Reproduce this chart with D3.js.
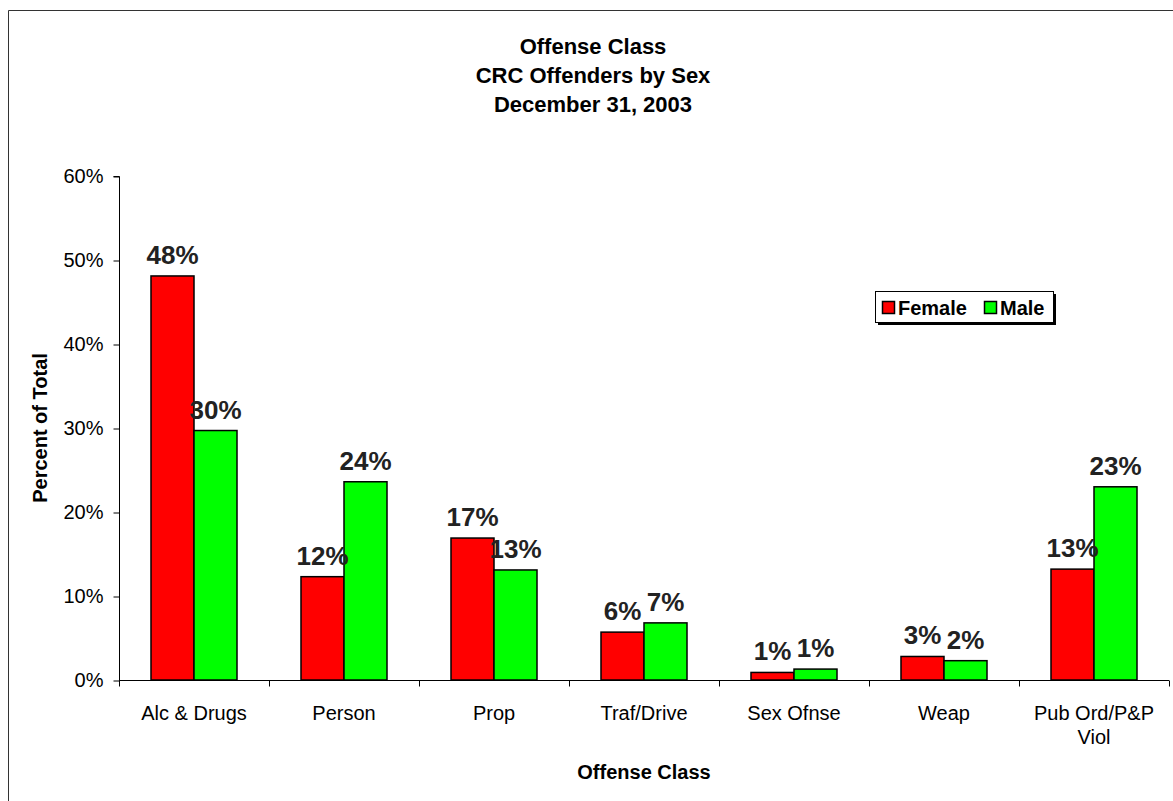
<!DOCTYPE html>
<html>
<head>
<meta charset="utf-8">
<script src="https://cdn.jsdelivr.net/npm/d3@7"></script>
<style>
html,body{margin:0;padding:0;background:#fff;}
svg{display:block;font-family:"Liberation Sans",Arial,sans-serif;}
</style>
</head>
<body>
<svg id="chart" width="1173" height="801"></svg>
<script>
const categories = ["Alc & Drugs","Person","Prop","Traf/Drive","Sex Ofnse","Weap","Pub Ord/P&P Viol"];
const seriesNames = ["Female","Male"];
const femaleValues = [48.1, 12.3, 16.9, 5.7, 0.9, 2.8, 13.2];
const maleValues = [29.7, 23.6, 13.1, 6.8, 1.3, 2.3, 23.0];
const yTickValues = [0,10,20,30,40,50,60];
const titleLines = ["Offense Class","CRC Offenders by Sex","December 31, 2003"];
const colors = {Female:"#ff0000", Male:"#00ff00"};

(function(){
const svg = d3.select("#chart");

// outer frame
svg.append("path").attr("d","M8.5,801 L8.5,10.5 L1173,10.5")
  .attr("fill","none").attr("stroke","#333").attr("stroke-width",1);

const pL = 119, pR = 1169, pT = 176, pB = 680;
const x = d3.scaleBand().domain(categories).range([pL,pR]).padding(0);
const bw = x.bandwidth();
const x1 = d3.scaleBand().domain(seriesNames).range([bw/2 - bw*0.2867, bw/2 + bw*0.2867]).padding(0);
const y = d3.scaleLinear().domain([0,60]).range([pB,pT]);

const data = categories.map((c,i)=>({cat:c, vals:[{s:"Female",v:femaleValues[i]},{s:"Male",v:maleValues[i]}]}));

// title
const t = svg.append("text").attr("text-anchor","middle").attr("font-weight","bold")
  .attr("font-size",22).attr("fill","#000");
titleLines.forEach((l,i)=>t.append("tspan").attr("x",593).attr("y",54 + i*29).text(l));

// bars
const g = svg.append("g");
const groups = g.selectAll("g.cat").data(data).join("g").attr("class","cat").attr("transform",d=>`translate(${x(d.cat)},0)`);
groups.selectAll("rect").data(d=>d.vals).join("rect")
  .attr("x",d=>x1(d.s)).attr("width",x1.bandwidth())
  .attr("y",d=>y(d.v)).attr("height",d=>y(0)-y(d.v))
  .attr("fill",d=>colors[d.s]).attr("stroke","#000").attr("stroke-width",1.5);
groups.selectAll("text").data(d=>d.vals).join("text")
  .attr("x",d=>x1(d.s)+x1.bandwidth()/2).attr("y",d=>y(d.v)-12)
  .attr("text-anchor","middle").attr("font-weight","bold").attr("font-size",26).attr("fill","#222")
  .text(d=>Math.round(d.v)+"%");

// y axis
const yAxis = d3.axisLeft(y).tickValues(yTickValues).tickFormat(d=>d+"%").tickSize(6).tickPadding(10);
const ya = svg.append("g").attr("transform",`translate(${pL+0.5},0.5)`).call(yAxis);
ya.select(".domain").attr("stroke","#000").attr("d",`M-6,${pT}H0V${pB}`);
ya.selectAll("text").attr("font-size",20).attr("font-family","Liberation Sans, Arial, sans-serif").attr("fill","#000");

// x axis
const xa = svg.append("g").attr("transform",`translate(0,${pB+0.5})`);
xa.append("line").attr("x1",pL).attr("x2",pR).attr("stroke","#000");
const bounds = categories.map(c=>x(c)).concat([pR]);
xa.selectAll("line.tick").data(bounds).join("line").attr("class","tick")
  .attr("x1",d=>Math.round(d)+0.5).attr("x2",d=>Math.round(d)+0.5).attr("y1",0).attr("y2",6).attr("stroke","#000");
const labs = xa.selectAll("text").data(categories).join("text")
  .attr("text-anchor","middle").attr("font-size",20).attr("fill","#000");
labs.each(function(c){
  const parts = c === "Pub Ord/P&P Viol" ? ["Pub Ord/P&P","Viol"] : [c];
  const el = d3.select(this);
  parts.forEach((p,i)=>el.append("tspan").attr("x",x(c)+bw/2).attr("y",39 + i*24).text(p));
});

// axis titles
svg.append("text").attr("x",644).attr("y",779).attr("text-anchor","middle")
  .attr("font-weight","bold").attr("font-size",20).text("Offense Class");
svg.append("text").attr("transform","translate(47,428) rotate(-90)").attr("text-anchor","middle")
  .attr("font-weight","bold").attr("font-size",20).text("Percent of Total");

// legend
const lg = svg.append("g");
lg.append("rect").attr("x",878).attr("y",294).attr("width",178).attr("height",31).attr("fill","#000");
lg.append("rect").attr("x",875.5).attr("y",291.5).attr("width",178).attr("height",31).attr("fill","#fff").attr("stroke","#000");
const items = [{s:"Female",sx:882,tx:898},{s:"Male",sx:984,tx:1000}];
items.forEach(it=>{
  lg.append("rect").attr("x",it.sx+0.5).attr("y",301.5).attr("width",12).attr("height",12)
    .attr("fill",colors[it.s]).attr("stroke","#000").attr("stroke-width",1.5);
  lg.append("text").attr("x",it.tx).attr("y",314.5).attr("font-weight","bold").attr("font-size",20).text(it.s);
});
})();
</script>
</body>
</html>
